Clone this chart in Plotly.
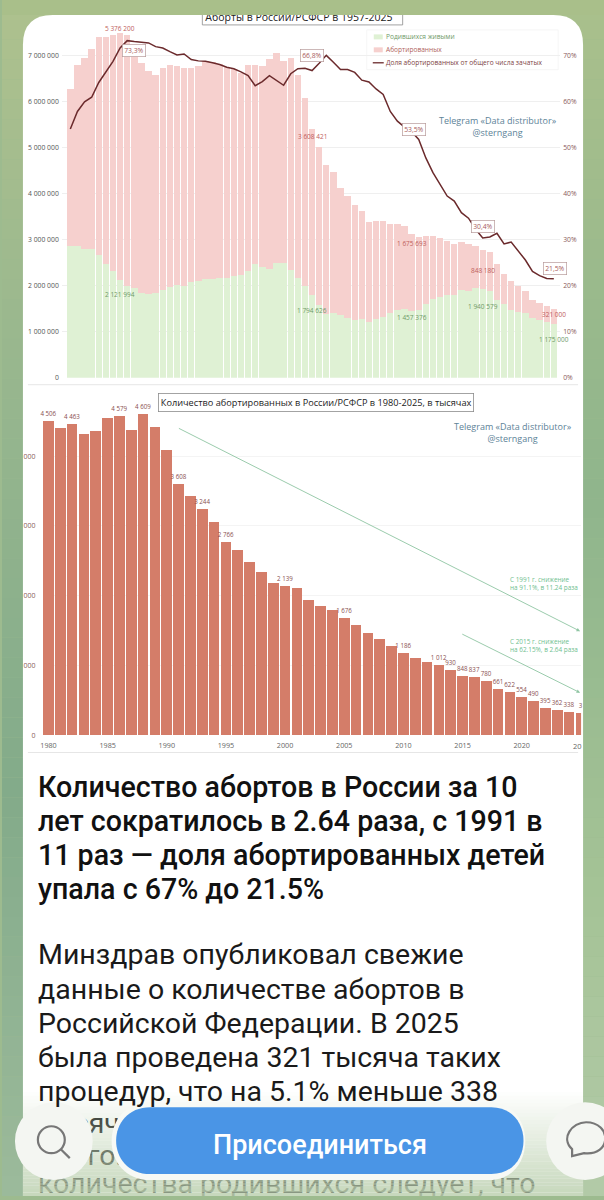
import plotly.graph_objects as go

# --- dati ---
years_a = list(range(1957, 2026))
births = [2870, 2870, 2800, 2790, 2662, 2482, 2331, 2122, 1991, 1957, 1852, 1817, 1848, 1904, 1975,
          2014, 1994, 2079, 2107, 2147, 2156, 2179, 2179, 2203, 2237, 2328, 2478, 2409, 2375, 2486,
          2499, 2348, 2161, 1989, 1794, 1587, 1379, 1408, 1364, 1304, 1259, 1283, 1215, 1267, 1312,
          1397, 1477, 1502, 1457, 1480, 1610, 1714, 1762, 1789, 1797, 1902, 1895, 1942, 1940, 1889,
          1690, 1604, 1481, 1436, 1399, 1305, 1264, 1222, 1175]
aborted = [3410, 3920, 4150, 4350, 4748, 4918, 5129, 5376, 5463, 5243, 4988, 4853, 4742, 4826, 4825,
           4756, 4736, 4661, 4663, 4733, 4704, 4651, 4571, 4506, 4400, 4463, 4314, 4362, 4552, 4579,
           4381, 4609, 4424, 4095, 3608, 3436, 3244, 3060, 2766, 2650, 2490, 2338, 2176, 2139, 2105,
           1938, 1857, 1790, 1676, 1576, 1471, 1376, 1286, 1186, 1114, 1057, 1012, 930, 848, 837,
           780, 661, 622, 554, 490, 395, 362, 338, 321]
share = [54.1, 57.9, 60.0, 61.0, 64.2, 66.6, 68.8, 71.7, 73.3, 73.1, 73.0, 72.8, 72.0, 71.7, 70.9,
         70.2, 70.4, 69.2, 68.9, 68.8, 68.5, 68.1, 67.5, 67.2, 66.5, 65.7, 63.5, 64.4, 65.7, 64.7,
         63.6, 66.1, 67.2, 67.3, 66.8, 68.4, 70.1, 68.6, 67.0, 67.0, 66.4, 64.7, 64.3, 62.8, 61.6,
         57.9, 55.8, 54.5, 53.5, 51.8, 47.8, 44.6, 42.0, 39.5, 38.4, 35.9, 34.7, 32.3, 30.4, 30.6,
         31.4, 29.1, 29.5, 27.5, 25.6, 23.1, 22.2, 21.6, 21.5]

years_b = list(range(1980, 2026))
aborted_b = [4506, 4400, 4463, 4314, 4362, 4552, 4579, 4381, 4609, 4424, 4095, 3608, 3436, 3244, 3060,
             2766, 2650, 2490, 2338, 2176, 2139, 2105, 1938, 1857, 1790, 1676, 1576, 1471, 1376, 1286,
             1186, 1114, 1057, 1012, 930, 848, 837, 780, 661, 622, 554, 490, 395, 362, 338, 321]
labels_b = {1980: '4 506', 1982: '4 463', 1986: '4 579', 1988: '4 609', 1991: '3 608', 1993: '3 244',
            1995: '2 766', 2000: '2 139', 2005: '1 676', 2010: '1 186', 2013: '1 012', 2014: '930',
            2015: '848', 2016: '837', 2017: '780', 2018: '661', 2019: '622', 2020: '554', 2021: '490',
            2022: '395', 2023: '362', 2024: '338', 2025: '3'}

ticks_a = [0, 1000, 2000, 3000, 4000, 5000, 6000, 7000]
ticktext_a = ['0', '1 000 000', '2 000 000', '3 000 000', '4 000 000', '5 000 000', '6 000 000', '7 000 000']
ticks_share = [0, 10, 20, 30, 40, 50, 60, 70]
ticktext_share = ['0%', '10%', '20%', '30%', '40%', '50%', '60%', '70%']
ticks_b = [0, 1000, 2000, 3000, 4000]
ticktext_b = ['0', '000', '000', '000', '000']
ticks_years = list(range(1980, 2025, 5))

heading = ['Количество абортов в России за 10', 'лет сократилось в 2.64 раза, с 1991 в',
           '11 раз — доля абортированных детей', 'упала с 67% до 21.5%']
body = ['Минздрав опубликовал свежие', 'данные о количестве абортов в', 'Российской Федерации. В 2025',
        'была проведена 321 тысяча таких', 'процедур, что на 5.1% меньше 338']
hidden_lines = ['тысяч в 2024 году. Из снижения с', 'Итого:', 'количества родившихся следует, что']

W, H = 604, 1200
PINK, GREEN, LINE = 'rgba(246,208,206,0.999)', 'rgba(223,241,212,0.999)', '#6b2a2c'
CORAL = 'rgba(212,125,105,0.999)'
RED_TXT, GREEN_TXT = '#c0605c', '#6f9a68'
WATER = '#5d8398'
UI = 'Roboto'
CHART = 'Open Sans'


def px_x(px):
    return px / W


def px_y(py):
    return 1 - py / H


def lerp(c1, c2, t):
    return 'rgb(%d,%d,%d)' % tuple(round(a + (b - a) * t) for a, b in zip(c1, c2))


def strip_color(stops, y):
    for (y0, c0), (y1, c1) in zip(stops, stops[1:]):
        if y <= y1:
            return lerp(c0, c1, (y - y0) / (y1 - y0))
    return lerp(stops[-1][1], stops[-1][1], 0)


def rect(x0, y0, x1, y1, fill, layer='below', line=None, **kw):
    # rettangolo in pixel della pagina
    return dict(type='rect', xref='paper', yref='paper', layer=layer, x0=px_x(x0), x1=px_x(x1),
                y0=px_y(y0), y1=px_y(y1), fillcolor=fill, line=line or dict(width=0), **kw)


def hline(x0, x1, y, color, width):
    return dict(type='line', xref='paper', yref='paper', layer='below', x0=px_x(x0), x1=px_x(x1),
                y0=px_y(y), y1=px_y(y), line=dict(color=color, width=width))


def page_path(points, layer='above', fill=None, line=None):
    # points: comandi con coordinate in pixel della pagina
    parts = []
    for cmd, *pts in points:
        coords = ' '.join(f'{px_x(x):.5f},{px_y(y):.5f}' for x, y in pts)
        parts.append(f'{cmd} {coords}'.strip())
    d = dict(type='path', xref='paper', yref='paper', layer=layer, path=' '.join(parts),
             line=line or dict(width=0))
    if fill:
        d['fillcolor'] = fill
    return d


fig = go.Figure()
# 1) grafico aborti + nati
fig.add_trace(go.Bar(x=years_a, y=births, marker=dict(color=GREEN, line_width=0), width=0.9,
                     xaxis='x', yaxis='y', name='Родившихся живыми'))
fig.add_trace(go.Bar(x=years_a, y=aborted, marker=dict(color=PINK, line_width=0), width=0.9,
                     xaxis='x', yaxis='y', name='Абортированных'))
fig.add_trace(go.Scatter(x=years_a, y=share, mode='lines', line=dict(color=LINE, width=1.5),
                         xaxis='x', yaxis='y2', name='Доля абортированных от общего числа зачатых'))
# 2) grafico aborti 1980-2025
fig.add_trace(go.Bar(x=years_b, y=aborted_b, marker=dict(color=CORAL, line_width=0), width=0.9,
                     xaxis='x2', yaxis='y3',
                     text=[labels_b.get(y, '') for y in years_b], textposition='outside', cliponaxis=False,
                     textangle=0, constraintext='none',
                     textfont=dict(family=CHART, size=6.2, color='#8a4f4f')))
# 3) testo coperto dal bottone e dalla dissolvenza
fig.add_trace(go.Scatter(x=[36, 36, 36, 204], y=[1130, 1162, 1190, 18.5],
                         text=hidden_lines + ['Аборты в России/РСФСР в 1957-2025'],
                         mode='text', textposition='middle right', xaxis='x3', yaxis='y4',
                         textfont=dict(family=[UI, UI, UI, CHART], size=[28.5, 28.5, 28.5, 10.5], color='#222222')))

shapes = []
# sfondo verde
left_stops = [(0, (174, 193, 142)), (400, (150, 182, 142)), (800, (131, 171, 138)), (1200, (156, 186, 155))]
right_stops = [(0, (170, 192, 140)), (500, (143, 181, 140)), (900, (165, 195, 150)), (1200, (178, 202, 168))]
for y0 in range(0, H, 20):
    shapes.append(rect(0, y0, 302, y0 + 20, strip_color(left_stops, y0 + 10)))
    shapes.append(rect(302, y0, 604, y0 + 20, strip_color(right_stops, y0 + 10)))
# scheda bianca
r = 30
shapes.append(page_path([('M', (21, 1200)), ('L', (21, 15 + r)), ('Q', (21, 15), (21 + r, 15)), ('L', (583 - r, 15)),
                         ('Q', (583, 15), (583, 15 + r)), ('L', (583, 1200)), ('Z',)], layer='below', fill='white'))
# separatori immagini
for y_sep in (386, 755):
    shapes.append(hline(26, 578, y_sep, '#e6e6e6', 1))
# riquadri titolo e legenda
shapes.append(rect(201, 10, 402, 25, 'white', line=dict(color='#8c8c8c', width=0.8)))
shapes.append(rect(366, 30, 558, 70, 'rgba(255,255,255,0.85)', line=dict(color='#f3f3f3', width=0.8)))
# striscia in alto sopra al titolo tagliato
shapes.append(rect(0, 0, 604, 15, '#a9bf8a', layer='above'))
# dissolvenza in basso
steps = 30
for i in range(steps):
    y0 = 1096 + i * 104 / steps
    shapes.append(rect(21, y0, 583, y0 + 104 / steps, 'rgb(190,210,178)', layer='above',
                       opacity=0.86 * (i + 1) / steps))
# bottoni
shapes.append(page_path([('M', (149, 1106)), ('L', (489, 1106)), ('C', (537, 1106), (537, 1184), (489, 1184)),
                         ('L', (149, 1184)), ('C', (97, 1184), (97, 1106), (149, 1106)), ('Z',)], fill='#f7f9f5'))
shapes.append(page_path([('M', (149, 1111)), ('L', (491, 1111)), ('C', (534, 1111), (534, 1178), (491, 1178)),
                         ('L', (149, 1178)), ('C', (103, 1178), (103, 1111), (149, 1111)), ('Z',)], fill='#4a95e6'))
shapes.append(dict(type='circle', xref='paper', yref='paper', layer='above', x0=px_x(13), x1=px_x(91),
                   y0=px_y(1106), y1=px_y(1184), fillcolor='#f4f6f2', line_width=0))
shapes.append(dict(type='circle', xref='paper', yref='paper', layer='above', x0=px_x(546), x1=px_x(624),
                   y0=px_y(1106), y1=px_y(1184), fillcolor='#f4f6f2', line_width=0))
shapes.append(dict(type='circle', xref='paper', yref='paper', layer='above', x0=px_x(36), x1=px_x(63),
                   y0=px_y(1130), y1=px_y(1157), line=dict(color='#777777', width=2.2)))
shapes.append(dict(type='line', xref='paper', yref='paper', layer='above', x0=px_x(59), x1=px_x(68),
                   y0=px_y(1153), y1=px_y(1162), line=dict(color='#777777', width=2.2)))
shapes.append(page_path([('M', (572, 1160)), ('L', (572, 1153)), ('C', (560, 1142), (572, 1126), (586, 1126)),
                         ('C', (612, 1126), (612, 1160), (584, 1157)), ('Z',)],
                        line=dict(color='#777777', width=2.2)))

annotations = []


def note(text, x, y, size, color, family=CHART, anchor='center', weight=None, **kw):
    font = dict(family=family, size=size, color=color)
    if weight:
        font['weight'] = weight
    annotations.append(dict(text=text, x=px_x(x), y=px_y(y), xref='paper', yref='paper', showarrow=False,
                            xanchor=anchor, yanchor='middle', font=font, **kw))


# etichette valori grafico 1 (legate ai dati)
for year, txt, val, shift, col in [
    (1964, '5 376 200', 2122 + 5376, 4, RED_TXT),
    (1991, '3 608 421', 1794 + 3608, -7, RED_TXT),
    (2005, '1 675 693', 1457 + 1676, -10, RED_TXT),
    (2015, '848 180', 1940 + 848, -21, RED_TXT),
    (2025, '321 000', 1175 + 321, -6, RED_TXT),
    (1964, '2 121 994', 2122, -14, GREEN_TXT),
    (1991, '1 794 626', 1794, -15, GREEN_TXT),
    (2005, '1 457 376', 1457, -7, GREEN_TXT),
    (2015, '1 940 579', 1940, -18, GREEN_TXT),
    (2025, '1 175 000', 1175, -16, GREEN_TXT),
]:
    annotations.append(dict(text=txt, x=year, y=val, xref='x', yref='y', showarrow=False, yshift=shift,
                            font=dict(family=CHART, size=6.5, color=col)))
for year, txt, val, xs, ys in [(1965, '73,3%', 73.3, 7, -10), (1991, '66,8%', 66.8, 0, 15),
                               (2005, '53,5%', 53.5, 2, 2), (2015, '30,4%', 30.4, 0, 11),
                               (2025, '21,5%', 21.5, 1, 10)]:
    annotations.append(dict(text=txt, x=year, y=val, xref='x', yref='y2', showarrow=False, xshift=xs, yshift=ys,
                            bgcolor='white', bordercolor='#b79a9a', borderwidth=0.7, borderpad=1.5,
                            font=dict(family=CHART, size=6.8, color='#a85c5c')))

# legenda fatta a mano
shapes.append(rect(373, 34.5, 382, 39.5, GREEN))
shapes.append(rect(373, 47.5, 382, 52.5, PINK))
shapes.append(hline(372, 383, 63, LINE, 1.3))
note('Родившихся живыми', 383, 37, 6.6, '#6f9a68', anchor='left')
note('Абортированных', 383, 50, 6.6, '#b06460', anchor='left')
note('Доля абортированных от общего числа зачатых', 383, 63, 6.6, '#7d3f3f', anchor='left')

note('Telegram «Data distributor»<br>@sterngang', 498, 127, 9.0, WATER)
note('Telegram «Data distributor»<br>@sterngang', 513, 434, 9.0, WATER)
note('Количество абортированных в России/РСФСР в 1980-2025, в тысячах', 315.5, 403.5, 9.2, '#222222',
     bgcolor='white', bordercolor='#8c8c8c', borderwidth=0.8, borderpad=2)

# frecce
for x0, y0, x1, y1 in [(177.3, 429.7, 580, 633.3), (460.7, 635.7, 580, 695)]:
    annotations.append(dict(x=px_x(x1), y=px_y(y1), ax=x0 - x1, ay=y0 - y1, xref='paper', yref='paper',
                            axref='pixel', ayref='pixel', text='', showarrow=True, arrowhead=2, arrowsize=0.8,
                            arrowwidth=0.9, arrowcolor='#8fc5a3'))
note('С 1991 г. снижение<br>на 91.1%, в 11.24 раза', 508, 585.5, 6.4, '#6fc08f', anchor='left', align='left')
note('С 2015 г. снижение<br>на 62.15%, в 2.64 раза', 508, 648, 6.4, '#6fc08f', anchor='left', align='left')
note('20', 577, 748, 7.5, '#666666')

for i, line in enumerate(heading):
    note(line, 34, 790 + i * 34, 28.6, '#111111', family=UI, anchor='left', weight=500)
for i, line in enumerate(body):
    note(line, 34, 958 + i * 34.4, 28.5, '#1a1a1a', family=UI, anchor='left')
note('Присоединиться', 319, 1149, 27, 'white', family=UI, weight=500)

fig.update_layout(
    width=W, height=H, autosize=False, margin=dict(l=0, r=0, t=0, b=0, pad=0),
    paper_bgcolor='#9dbb8f', plot_bgcolor='rgba(0,0,0,0)', barmode='stack', showlegend=False,
    shapes=shapes, annotations=annotations,
    xaxis=dict(domain=[px_x(60), px_x(560)], range=[1955.8, 2025.89], visible=False, anchor='y'),
    yaxis=dict(domain=[px_y(379), px_y(16)], range=[0, 7867], tickvals=ticks_a, ticktext=ticktext_a,
               tickfont=dict(family=CHART, size=6.8, color='#555555'), gridcolor='#efefef', gridwidth=0.8,
               zeroline=False, showline=False, anchor='x', ticklabelstandoff=2),
    yaxis2=dict(domain=[px_y(379), px_y(16)], range=[0, 78.67], overlaying='y', side='right', anchor='x',
                tickvals=ticks_share, ticktext=ticktext_share, showgrid=False, zeroline=False,
                ticklabelstandoff=2, tickfont=dict(family=CHART, size=6.8, color='#8a5a5a')),
    xaxis2=dict(domain=[px_x(40.7), px_x(581)], range=[1979.5, 2025.02], tickvals=ticks_years,
                tickfont=dict(family=CHART, size=7.2, color='#666666'), showgrid=False, zeroline=False,
                anchor='y3', tickangle=0, ticklabelstandoff=5),
    yaxis3=dict(domain=[px_y(737.7), px_y(388)], range=[0, 4996], tickvals=ticks_b, ticktext=ticktext_b,
                tickfont=dict(family=CHART, size=7, color='#8a5a5a'), gridcolor='#f4f4f4', gridwidth=0.8,
                zeroline=False, anchor='x2', ticklabelstandoff=6),
    xaxis3=dict(domain=[0, 1], range=[0, W], visible=False, anchor='y4', fixedrange=True),
    yaxis4=dict(domain=[0, 1], range=[H, 0], visible=False, anchor='x3', fixedrange=True),
)

page_css = ("document.documentElement.style.cssText='margin:0;padding:0;overflow:hidden;height:1200px';"
            "document.body.style.cssText='margin:0;padding:0;overflow:hidden;height:1200px';")
fig.write_html('out.html', config={'displayModeBar': False}, post_script=page_css)
